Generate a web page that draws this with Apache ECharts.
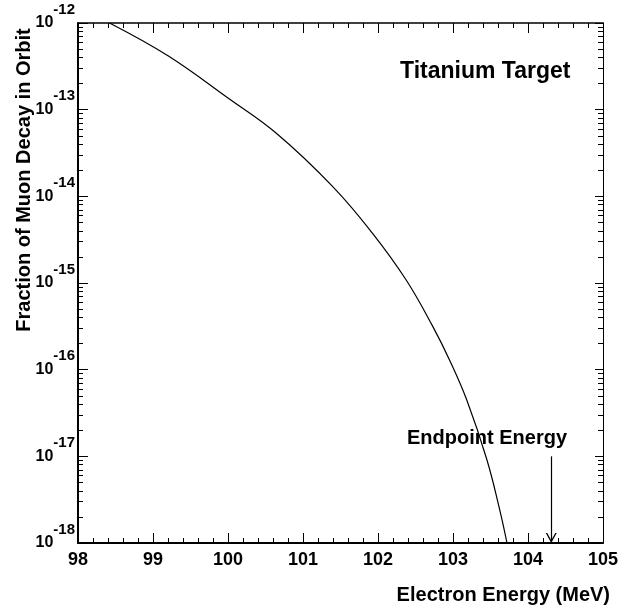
<!DOCTYPE html>
<html>
<head>
<meta charset="utf-8">
<title>Muon Decay in Orbit – Titanium</title>
<script src="https://cdn.jsdelivr.net/npm/echarts@6/dist/echarts.min.js"></script>
<style>
  html, body { margin: 0; padding: 0; background: #fff; }
  #chart { width: 641px; height: 612px; }
</style>
</head>
<body>
<div id="chart"></div>
<script>
// Electron energy (MeV) and fraction of muon decays in orbit
const energy = [98.42, 99.20, 100.00, 100.66, 101.40, 101.93, 102.38,
                102.73, 102.96, 103.18, 103.45, 103.62, 103.72];
const fraction = [1.0e-12, 4.18e-13, 1.36e-13, 5.20e-14, 1.285e-14, 3.72e-15, 1.07e-15,
                  3.16e-16, 1.26e-16, 4.55e-17, 9.25e-18, 2.48e-18, 1.0e-18];

// Axis ranges and tick labels
const xRange = [98, 105];
const xTickLabels = ['98', '99', '100', '101', '102', '103', '104', '105'];
const yRange = [1e-18, 1e-12];
const yExponents = [-18, -17, -16, -15, -14, -13, -12];

// Endpoint energy marker
const endpointEnergy = 104.31;
const arrowTop = 1e-17;

const FONT = 'Liberation Sans';

// minor log ticks: 2..9 × 10^d inside every decade
const yMinorTicks = [];
for (let d = -18; d < -12; d++) {
  for (let m = 2; m <= 9; m++) yMinorTicks.push(Number(m + 'e' + d));
}

const chart = echarts.init(document.getElementById('chart'), null, { renderer: 'canvas' });

const axisLineStyle = (w) => ({ show: true, lineStyle: { color: '#000', width: w } });

const option = {
  backgroundColor: '#fff',
  animation: false,
  grid: { left: 78, right: 38, top: 23, bottom: 69, containLabel: false, outerBoundsMode: 'none' },
  xAxis: [
    {
      type: 'value', position: 'bottom', min: xRange[0], max: xRange[1], interval: 1,
      axisLine: axisLineStyle(2),
      axisTick: { show: true, inside: true, length: 10, lineStyle: { color: '#000', width: 1 } },
      minorTick: { show: true, splitNumber: 5, length: 5, lineStyle: { color: '#000', width: 1 } },
      splitLine: { show: false },
      axisLabel: {
        margin: 8, color: '#000', fontFamily: FONT, fontWeight: 'bold', fontSize: 18,
        formatter: (v) => xTickLabels[Math.round(v - xRange[0])]
      },
      name: 'Electron Energy (MeV)', nameLocation: 'end', nameGap: 7,
      nameMoveOverlap: false,
      nameTextStyle: {
        color: '#000', fontFamily: FONT, fontWeight: 'bold', fontSize: 20,
        align: 'right', verticalAlign: 'top', padding: [42, 0, 0, 0]
      }
    },
    {
      type: 'value', position: 'top', min: xRange[0], max: xRange[1], interval: 1,
      axisLine: axisLineStyle(1.5),
      axisTick: { show: true, inside: true, length: 10, lineStyle: { color: '#000', width: 1 } },
      minorTick: { show: true, splitNumber: 5, length: 5, lineStyle: { color: '#000', width: 1 } },
      splitLine: { show: false },
      axisLabel: { show: false }
    }
  ],
  yAxis: [
    {
      type: 'log', logBase: 10, position: 'left', min: yRange[0], max: yRange[1], interval: 1,
      axisLine: axisLineStyle(2),
      axisTick: { show: true, inside: true, length: 10, lineStyle: { color: '#000', width: 1 } },
      splitLine: { show: false },
      axisLabel: {
        margin: 3, color: '#000', fontFamily: FONT, fontWeight: 'bold',
        formatter: (v) => {
          const e = Math.round(Math.log10(v));
          return yExponents.indexOf(e) >= 0 ? '{b|10}{s|' + e + '}' : '';
        },
        rich: {
          b: { fontFamily: FONT, fontWeight: 'bold', fontSize: 16, lineHeight: 42, verticalAlign: 'middle', color: '#000' },
          s: { fontFamily: FONT, fontWeight: 'bold', fontSize: 15, verticalAlign: 'top', color: '#000' }
        }
      },
      name: 'Fraction of Muon Decay in Orbit', nameLocation: 'middle', nameGap: 44,
      nameMoveOverlap: false,
      nameTextStyle: {
        color: '#000', fontFamily: FONT, fontWeight: 'bold', fontSize: 20,
        padding: [0, 0, 0, 206]
      }
    },
    {
      type: 'log', logBase: 10, position: 'left', min: yRange[0], max: yRange[1],
      axisLine: { show: false },
      axisTick: { show: true, inside: true, length: 5, customValues: yMinorTicks, lineStyle: { color: '#000', width: 1 } },
      splitLine: { show: false },
      axisLabel: { show: false }
    },
    {
      type: 'log', logBase: 10, position: 'right', min: yRange[0], max: yRange[1], interval: 1,
      axisLine: axisLineStyle(1),
      axisTick: { show: true, inside: true, length: 8, lineStyle: { color: '#000', width: 1 } },
      splitLine: { show: false },
      axisLabel: { show: false }
    },
    {
      type: 'log', logBase: 10, position: 'right', min: yRange[0], max: yRange[1],
      axisLine: { show: false },
      axisTick: { show: true, inside: true, length: 5, customValues: yMinorTicks, lineStyle: { color: '#000', width: 1 } },
      splitLine: { show: false },
      axisLabel: { show: false }
    }
  ],
  graphic: [
    {
      type: 'text', left: 400, top: 60,
      style: { text: 'Titanium Target', font: 'bold 23px "' + FONT + '"', fill: '#000' }
    },
    {
      type: 'text', left: 407, top: 428,
      style: { text: 'Endpoint Energy', font: 'bold 20px "' + FONT + '"', fill: '#000' }
    }
  ],
  series: [
    {
      type: 'line',
      xAxisIndex: 0, yAxisIndex: 0,
      data: energy.map((e, i) => [e, fraction[i]]),
      smooth: 0.4,
      showSymbol: false,
      lineStyle: { color: '#000', width: 1.2 },
      markLine: {
        silent: true,
        animation: false,
        symbol: ['none', 'path://M0,10 L5,0 L10,10 L8.6,10 L5,2.8 L1.4,10 Z'],
        symbolSize: [11, 10],
        symbolOffset: [[0, 0], [0, 5]],
        lineStyle: { color: '#000', width: 1.2, type: 'solid' },
        label: { show: false },
        emphasis: { disabled: true },
        data: [[{ coord: [endpointEnergy, arrowTop] }, { coord: [endpointEnergy, yRange[0]] }]]
      }
    }
  ]
};

chart.setOption(option);
</script>
</body>
</html>
